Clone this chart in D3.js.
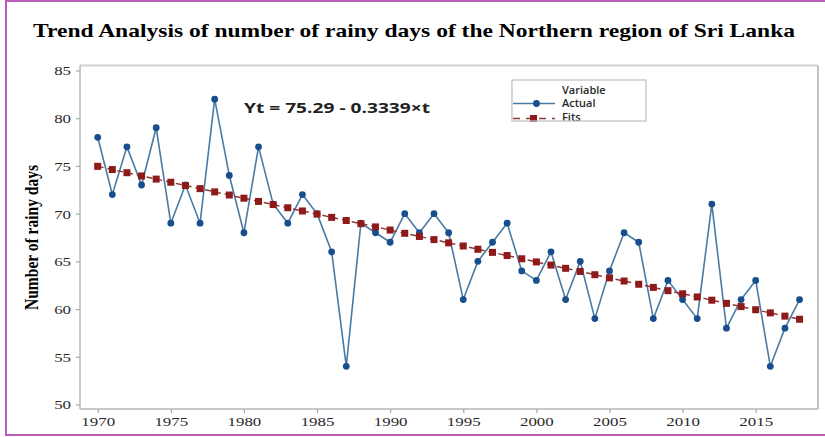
<!DOCTYPE html>
<html>
<head>
<meta charset="utf-8">
<script src="https://cdn.jsdelivr.net/npm/d3@7"></script>
<style>
  html, body { margin: 0; padding: 0; background: #fff; }
  svg { display: block; }
</style>
</head>
<body>
<script>
// Annual number of rainy days, Northern region of Sri Lanka, with linear trend fit
const years = [1970, 1971, 1972, 1973, 1974, 1975, 1976, 1977, 1978, 1979,
  1980, 1981, 1982, 1983, 1984, 1985, 1986, 1987, 1988, 1989,
  1990, 1991, 1992, 1993, 1994, 1995, 1996, 1997, 1998, 1999,
  2000, 2001, 2002, 2003, 2004, 2005, 2006, 2007, 2008, 2009,
  2010, 2011, 2012, 2013, 2014, 2015, 2016, 2017, 2018];
const actual = [78, 72, 77, 73, 79, 69, 73, 69, 82, 74,
  68, 77, 71, 69, 72, 70, 66, 54, 69, 68,
  67, 70, 68, 70, 68, 61, 65, 67, 69, 64,
  63, 66, 61, 65, 59, 64, 68, 67, 59, 63,
  61, 59, 71, 58, 61, 63, 54, 58, 61];
// Fitted trend values (Yt = 75.29 - 0.3339 t, t = 1 … 49)
const fits = [74.96, 74.62, 74.29, 73.95, 73.62, 73.29, 72.95, 72.62, 72.28, 71.95,
  71.62, 71.28, 70.95, 70.62, 70.28, 69.95, 69.61, 69.28, 68.95, 68.61,
  68.28, 67.94, 67.61, 67.28, 66.94, 66.61, 66.27, 65.94, 65.61, 65.27,
  64.94, 64.61, 64.27, 63.94, 63.60, 63.27, 62.94, 62.60, 62.27, 61.93,
  61.60, 61.27, 60.93, 60.60, 60.26, 59.93, 59.60, 59.26, 58.93];
const xTicks = [1970, 1975, 1980, 1985, 1990, 1995, 2000, 2005, 2010, 2015];
const yTicks = [50, 55, 60, 65, 70, 75, 80, 85];
const titleText = "Trend Analysis of number of rainy days of the Northern region of Sri Lanka";
const yLabel = "Number of rainy days";
const equation = "Yt = 75.29 - 0.3339×t";
const legendTitle = "Variable";
const seriesNames = ["Actual", "Fits"];

const W = 825, H = 437;
const frame = { left: 80, right: 818, top: 65.5, bottom: 409 };
const blueLine = "#4a7ba4", blueDot = "#174e8d";
const redLine = "#8c3a3a", redSq = "#8e1a1a";
const serif = "'Liberation Serif', 'Times New Roman', serif";
const sans = "'Open Sans', 'Noto Sans', sans-serif";
const stretch = 1.3;

const svg = d3.select("body").append("svg")
  .attr("width", W).attr("height", H);

svg.append("rect").attr("width", W).attr("height", H).attr("fill", "#fff");

// outer border
svg.append("rect")
  .attr("x", 6).attr("y", 1).attr("width", W + 10).attr("height", 434)
  .attr("fill", "none").attr("stroke", "#bb5dbb").attr("stroke-width", 2);

const x = d3.scaleLinear().domain([1970, 2015]).range([97.7, 755.7]);
const y = d3.scaleLinear().domain([50, 85]).range([404.5, 70.5]);

// plot frame
const fr = svg.append("g");
fr.append("line").attr("x1", frame.left).attr("x2", frame.right)
  .attr("y1", frame.top).attr("y2", frame.top)
  .attr("stroke", "#d2d2d2").attr("stroke-width", 2);
fr.append("line").attr("x1", frame.right).attr("x2", frame.right)
  .attr("y1", frame.top).attr("y2", frame.bottom)
  .attr("stroke", "#c2c2c2").attr("stroke-width", 2);
fr.append("line").attr("x1", frame.left).attr("x2", frame.left)
  .attr("y1", frame.top).attr("y2", frame.bottom)
  .attr("stroke", "#b4b4b4").attr("stroke-width", 1.4);
fr.append("line").attr("x1", frame.left).attr("x2", frame.right)
  .attr("y1", frame.bottom).attr("y2", frame.bottom)
  .attr("stroke", "#b4b4b4").attr("stroke-width", 1.4);

// axes
const xAxis = svg.append("g")
  .attr("transform", `translate(0,${frame.bottom})`)
  .call(d3.axisBottom(x).tickValues(xTicks).tickFormat(d3.format("d"))
    .tickSize(4).tickSizeOuter(0));
xAxis.select(".domain").remove();
xAxis.selectAll(".tick line").attr("stroke", "#a8a8a8").attr("stroke-width", 1.2);
xAxis.selectAll(".tick text")
  .attr("y", 17).attr("dy", null)
  .attr("transform", `scale(${stretch},1)`)
  .attr("fill", "#2a2a2a")
  .style("font-family", serif).style("font-size", "13px");

const yAxis = svg.append("g")
  .attr("transform", `translate(${frame.left},0)`)
  .call(d3.axisLeft(y).tickValues(yTicks).tickSize(4).tickSizeOuter(0));
yAxis.select(".domain").remove();
yAxis.selectAll(".tick line").attr("stroke", "#a8a8a8").attr("stroke-width", 1.2);
yAxis.selectAll(".tick text")
  .attr("x", -9 / stretch).attr("dy", "0.34em")
  .attr("transform", `scale(${stretch},1)`)
  .attr("fill", "#2a2a2a")
  .style("font-family", serif).style("font-size", "13px");

// title
svg.append("text")
  .attr("x", 414).attr("y", 37)
  .attr("text-anchor", "middle")
  .attr("textLength", 762).attr("lengthAdjust", "spacingAndGlyphs")
  .style("font-family", serif).style("font-size", "19.5px").style("font-weight", "bold")
  .attr("fill", "#000")
  .text(titleText);

// y axis title
svg.append("text")
  .attr("transform", `translate(37.5,237.5) rotate(-90) scale(1,${stretch})`)
  .attr("text-anchor", "middle")
  .attr("textLength", 145).attr("lengthAdjust", "spacingAndGlyphs")
  .style("font-family", serif).style("font-size", "15px").style("font-weight", "bold")
  .attr("fill", "#000")
  .text(yLabel);

// trend equation
svg.append("text")
  .attr("x", 244).attr("y", 112.5)
  .attr("textLength", 186).attr("lengthAdjust", "spacingAndGlyphs")
  .style("font-family", sans).style("font-size", "14px").style("font-weight", "bold")
  .attr("fill", "#222")
  .text(equation);

const rows = years.map((yr, i) => ({ year: yr, actual: actual[i], fit: fits[i] }));

// actual series
svg.append("path")
  .datum(rows)
  .attr("fill", "none").attr("stroke", blueLine).attr("stroke-width", 1.6)
  .attr("stroke-linejoin", "round")
  .attr("d", d3.line().x(d => x(d.year)).y(d => y(d.actual)));
svg.append("g").selectAll("circle").data(rows).join("circle")
  .attr("cx", d => x(d.year)).attr("cy", d => y(d.actual)).attr("r", 3.4)
  .attr("fill", blueDot);

// fitted trend
svg.append("path")
  .datum(rows)
  .attr("fill", "none").attr("stroke", redLine).attr("stroke-width", 1.5)
  .attr("stroke-dasharray", "6,4")
  .attr("d", d3.line().x(d => x(d.year)).y(d => y(d.fit)));
const sq = 7;
svg.append("g").selectAll("rect").data(rows).join("rect")
  .attr("x", d => x(d.year) - sq / 2).attr("y", d => y(d.fit) - sq / 2)
  .attr("width", sq).attr("height", sq)
  .attr("fill", redSq);

// legend
const lg = svg.append("g");
lg.append("rect").attr("x", 512).attr("y", 80).attr("width", 134).attr("height", 41)
  .attr("fill", "#fff");
lg.append("text").attr("x", 562).attr("y", 93.5)
  .style("font-family", sans).style("font-size", "11px").style("font-weight", "600")
  .attr("fill", "#2a2a2a").text(legendTitle);
lg.append("line").attr("x1", 513).attr("x2", 555).attr("y1", 103.5).attr("y2", 103.5)
  .attr("stroke", blueLine).attr("stroke-width", 1.6);
lg.append("circle").attr("cx", 536.5).attr("cy", 103.5).attr("r", 3.4).attr("fill", blueDot);
lg.append("text").attr("x", 562).attr("y", 107)
  .style("font-family", sans).style("font-size", "11px").style("font-weight", "600")
  .attr("fill", "#2a2a2a").text(seriesNames[0]);
lg.append("line").attr("x1", 513).attr("x2", 555).attr("y1", 118.5).attr("y2", 118.5)
  .attr("stroke", redLine).attr("stroke-width", 1.5).attr("stroke-dasharray", "7,6");
lg.append("rect").attr("x", 530).attr("y", 115).attr("width", sq).attr("height", sq)
  .attr("fill", redSq);
lg.append("text").attr("x", 562).attr("y", 120.5)
  .style("font-family", sans).style("font-size", "11px").style("font-weight", "600")
  .attr("fill", "#2a2a2a").text(seriesNames[1]);
lg.append("rect").attr("x", 512).attr("y", 80).attr("width", 134).attr("height", 41)
  .attr("fill", "none").attr("stroke", "#c4c4c4").attr("stroke-width", 1.3);
</script>
</body>
</html>
